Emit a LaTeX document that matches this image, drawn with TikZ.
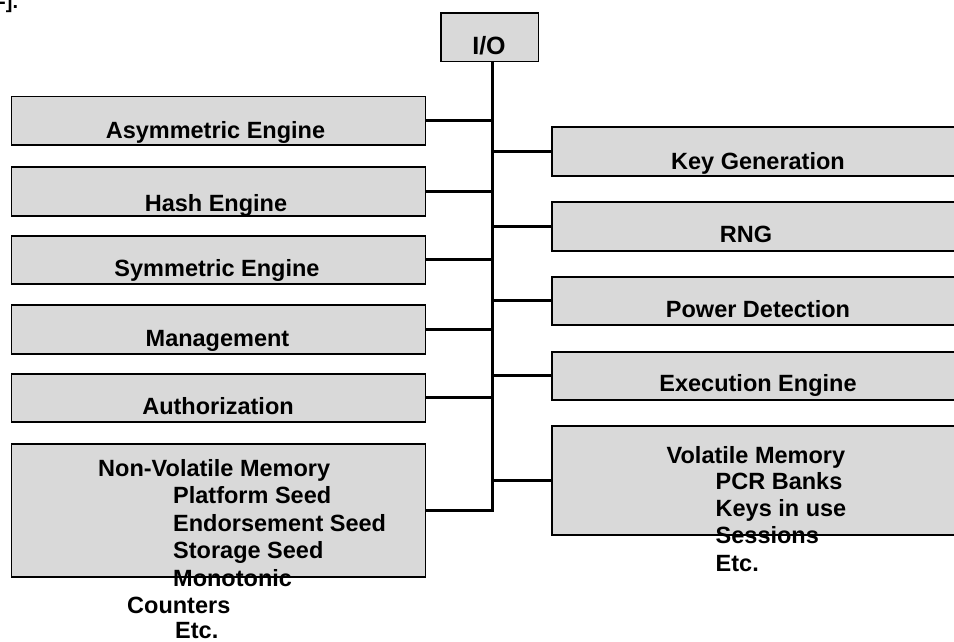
\documentclass[tikz,border=0pt]{standalone}
\usepackage{fontspec}
\setmainfont{Liberation Sans}
\definecolor{boxgray}{HTML}{D9D9D9}
\begin{document}
\begin{tikzpicture}[x=1pt,y=-1pt,
  box/.style={draw=black, line width=1.5pt, fill=boxgray, rectangle, inner sep=0pt, anchor=north west},
  lbl/.style={font=\bfseries\fontsize{23.5}{27.5}\selectfont, anchor=base, inner sep=0pt},
  lbll/.style={lbl, anchor=base west},
  wire/.style={line width=3pt, line join=miter}]
\useasboundingbox (0,0) rectangle (954,642);
\clip (0,0) rectangle (954,642);

% fragment of text at the top-left corner
\node[lbll, font=\bfseries\fontsize{20}{22}\selectfont] (frag) at (-1,8.5) {-].};

% I/O box
\node[box, minimum width=97.5pt, minimum height=48.5pt] (io) at (440,12.5) {};

% left boxes
\node[box, minimum width=414pt, minimum height=48pt] (asym) at (10.5,96) {};
\node[box, minimum width=414pt, minimum height=49pt] (hash) at (10.5,166) {};
\node[box, minimum width=414pt, minimum height=48pt] (sym)  at (10.5,235) {};
\node[box, minimum width=414pt, minimum height=49pt] (mgmt) at (10.5,304) {};
\node[box, minimum width=414pt, minimum height=48pt] (auth) at (10.5,373) {};
\node[box, minimum width=414pt, minimum height=133pt] (nvm) at (10.5,443) {};

% right boxes (run past the right edge)
\node[box, minimum width=450pt, minimum height=49pt] (keyg) at (551,126) {};
\node[box, minimum width=450pt, minimum height=49pt] (rng)  at (551,201) {};
\node[box, minimum width=450pt, minimum height=48pt] (pwr)  at (551,276) {};
\node[box, minimum width=450pt, minimum height=48pt] (exec) at (551,351) {};
\node[box, minimum width=450pt, minimum height=109pt] (vm)  at (551,425) {};

% spine
\coordinate (st) at (492,61);
\draw[wire] (io.south -| st) -- (nvm.east -| st) -- (nvm.east);
\foreach \n in {asym,hash,sym,mgmt,auth}
  \draw[wire] (\n.east) -- (\n.east -| st);
\foreach \n in {keyg,rng,pwr,exec,vm}
  \draw[wire] (\n.west) -- (\n.west -| st);

% labels
\node[lbl, font=\bfseries\fontsize{25}{28}\selectfont] (tio) at (489,55) {I/O};
\node[lbl] (tasym) at (215.5,139) {Asymmetric Engine};
\node[lbl] (thash) at (216,211.5) {Hash Engine};
\node[lbl] (tsym)  at (217,276.5) {Symmetric Engine};
\node[lbl] (tmgmt) at (217.5,346) {Management};
\node[lbl] (tauth) at (218,414.5) {Authorization};
\node[lbl] (tkeyg) at (758,169.5) {Key Generation};
\node[lbl] (trng)  at (746,242) {RNG};
\node[lbl] (tpwr)  at (758,317.5) {Power Detection};
\node[lbl] (texec) at (758,391.5) {Execution Engine};

% non-volatile memory text
\foreach \t/\x/\y [count=\i] in {Non-Volatile Memory/98/476, Platform Seed/173/503.5,
    Endorsement Seed/173/531, Storage Seed/173/558.5, Monotonic/173/586,
    Counters/127/613.5, Etc./175/638}
  \node[lbll] (nv\i) at (\x,\y) {\t};

% volatile memory text
\foreach \t/\x/\y [count=\i] in {Volatile Memory/666.5/463, PCR Banks/715.5/489.5,
    Keys in use/715.5/516.5, Sessions/715.5/543.5, Etc./715.5/571.5}
  \node[lbll] (vm\i) at (\x,\y) {\t};
\end{tikzpicture}
\end{document}
